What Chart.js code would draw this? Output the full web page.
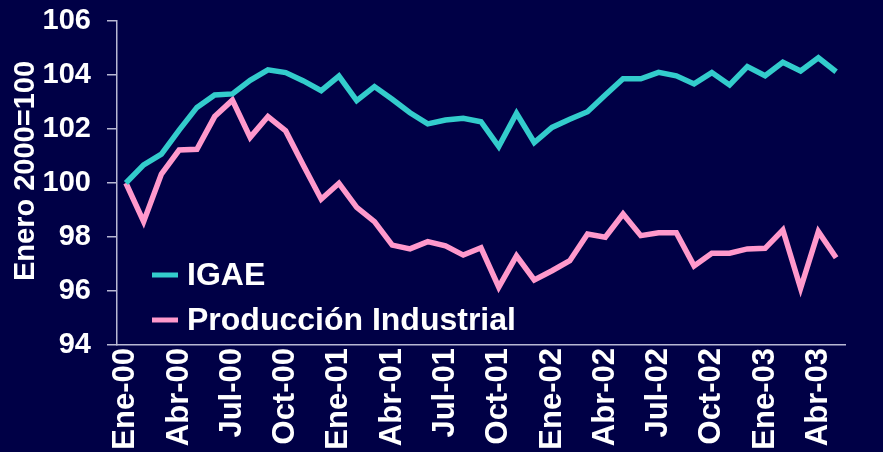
<!DOCTYPE html>
<html>
<head>
<meta charset="utf-8">
<script src="https://cdn.jsdelivr.net/npm/chart.js@4.4.1/dist/chart.umd.min.js"></script>
<style>
  html, body { margin: 0; padding: 0; background: #000046; }
  #wrap { width: 883px; height: 452px; }
</style>
</head>
<body>
<div id="wrap"><canvas id="chart" width="883" height="452"></canvas></div>
<script>
// ==========================================
// DATA (Enero 2000 = 100)
// ==========================================
const meses = ['Ene', 'Feb', 'Mar', 'Abr', 'May', 'Jun', 'Jul', 'Ago', 'Sep', 'Oct', 'Nov', 'Dic'];
const anios = ['00', '01', '02', '03'];

// Ene-00 .. May-03 (41 meses)
const labels = [];
for (let i = 0; i < 41; i++) {
    labels.push(meses[i % 12] + '-' + anios[Math.floor(i / 12)]);
}

const igae = [
    100.0, 100.67, 101.07, 101.96, 102.8, 103.26, 103.3, 103.8, 104.19, 104.09, 103.78, 103.42,
    103.96, 103.05, 103.57, 103.1, 102.6, 102.19, 102.33, 102.4, 102.27, 101.35, 102.58, 101.5,
    102.06, 102.36, 102.64, 103.26, 103.86, 103.86, 104.1, 103.97, 103.67, 104.09, 103.63, 104.31,
    103.97, 104.47, 104.15, 104.64, 104.12
];

const produccion = [
    100.0, 98.57, 100.33, 101.22, 101.25, 102.46, 103.07, 101.69, 102.46, 101.93, 100.65, 99.4,
    99.99, 99.1, 98.57, 97.7, 97.56, 97.83, 97.67, 97.33, 97.6, 96.14, 97.3, 96.41,
    96.75, 97.12, 98.11, 97.99, 98.85, 98.05, 98.16, 98.16, 96.93, 97.4, 97.4, 97.56,
    97.58, 98.26, 96.1, 98.2, 97.23
];

const yTicks = [94, 96, 98, 100, 102, 104, 106];
const yTitle = 'Enero 2000=100';

// ==========================================
// ESTILO
// ==========================================
const FONT = '"Liberation Sans", Arial, sans-serif';
const AXIS = '#b8b8d4';
const TEAL = '#33cccc';
const PINK = '#ff99cc';

// leyenda dentro del area del grafico (abajo a la izquierda) + titulo del eje Y
const extras = {
    id: 'extras',
    afterDraw(chart) {
        const ctx = chart.ctx;
        ctx.save();
        ctx.font = 'bold 32px ' + FONT;
        ctx.textBaseline = 'middle';
        ctx.textAlign = 'left';
        chart.data.datasets.forEach((ds, i) => {
            const y = 275 + i * 45;
            ctx.strokeStyle = ds.borderColor;
            ctx.lineWidth = 5;
            ctx.beginPath();
            ctx.moveTo(152, y);
            ctx.lineTo(178, y);
            ctx.stroke();
            ctx.fillStyle = '#ffffff';
            ctx.fillText(ds.label, 187, y + 1);
        });

        // titulo vertical, un poco arriba del centro como en el original
        ctx.translate(26, 171);
        ctx.rotate(-Math.PI / 2);
        ctx.textAlign = 'center';
        ctx.font = 'bold 29px ' + FONT;
        ctx.fillText(yTitle, 0, 0);
        ctx.restore();
    }
};

// ==========================================
// CHART
// ==========================================
const chart = new Chart(document.getElementById('chart'), {
    type: 'line',
    data: {
        labels: labels,
        datasets: [
            {
                label: 'IGAE',
                data: igae,
                borderColor: TEAL,
                borderWidth: 5.5,
                pointRadius: 0,
                tension: 0
            },
            {
                label: 'Producción Industrial',
                data: produccion,
                borderColor: PINK,
                borderWidth: 5.5,
                pointRadius: 0,
                tension: 0
            }
        ]
    },
    options: {
        responsive: false,
        devicePixelRatio: 1,
        animation: false,
        layout: { padding: { top: 21, right: 38, left: 0, bottom: 0 } },
        plugins: {
            legend: { display: false },
            tooltip: { enabled: false }
        },
        scales: {
            x: {
                offset: true,
                grid: { display: false, drawTicks: false },
                border: { display: true, color: AXIS, width: 1.5 },
                ticks: {
                    color: '#ffffff',
                    font: { family: FONT, size: 31, weight: 'bold' },
                    autoSkip: false,
                    maxRotation: 90,
                    minRotation: 90,
                    padding: 3,
                    callback: function (v, i) { return i % 3 === 0 ? labels[i] : ''; }
                },
                afterFit: (s) => { s.height = 107; }
            },
            y: {
                min: 94,
                max: 106,
                afterBuildTicks: (s) => { s.ticks = yTicks.map(v => ({ value: v })); },
                grid: { drawOnChartArea: false, color: AXIS, tickLength: 10, lineWidth: 1.5 },
                border: { display: true, color: AXIS, width: 1.5 },
                ticks: {
                    color: '#ffffff',
                    font: { family: FONT, size: 29, weight: 'bold' },
                    padding: 16
                },
                afterFit: (s) => {
                    s.width = 117;
                    s.paddingTop = 0;
                    s.paddingBottom = 0;
                }
            }
        }
    },
    plugins: [extras]
});
</script>
</body>
</html>
